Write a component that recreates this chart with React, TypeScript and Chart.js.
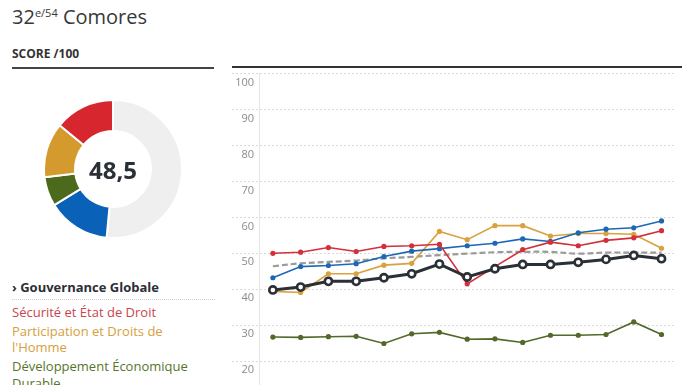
import React, { useEffect, useRef } from 'react';
import { Chart, registerables } from 'chart.js';

Chart.register(...registerables);

// ---- Data ----
const years = ['2000', '2001', '2002', '2003', '2004', '2005', '2006', '2007', '2008', '2009', '2010', '2011', '2012', '2013', '2014'];
const gouvernance = [39.8, 40.6, 42.2, 42.2, 43.2, 44.3, 47.0, 43.4, 45.7, 46.9, 46.9, 47.5, 48.3, 49.4, 48.5];
const securite = [50.0, 50.3, 51.6, 50.5, 51.9, 52.1, 52.5, 41.5, 46.3, 51.0, 53.1, 52.1, 53.6, 54.3, 56.3];
const participation = [39.4, 39.1, 44.3, 44.3, 46.7, 47.2, 56.1, 53.8, 57.7, 57.7, 54.8, 55.5, 55.5, 55.3, 51.4];
const devEconomique = [26.7, 26.6, 26.8, 26.9, 24.9, 27.6, 28.0, 26.1, 26.2, 25.2, 27.2, 27.2, 27.4, 30.9, 27.4];
const devHumain = [43.2, 46.3, 46.6, 47.1, 49.1, 50.6, 51.3, 52.1, 52.8, 54.0, 53.3, 55.7, 56.7, 57.1, 59.0];
const moyenne = [46.4, 47.2, 47.6, 48.0, 48.6, 49.0, 49.5, 49.9, 50.3, 50.4, 50.4, 49.9, 50.2, 50.2, 50.2];
const yTicks = [0, 10, 20, 30, 40, 50, 60, 70, 80, 90, 100];

const rank = '32';
const rankOf = 'e/54';
const country = 'Comores';
const scoreLabel = '48,5';
const categoryNames = ['Sécurité et État de Droit', "Participation et Droits de l'Homme", 'Développement Économique Durable', 'Développement Humain'];

const RED = '#d3303a';
const YELLOW = '#d9a23f';
const GREEN = '#52692a';
const BLUE = '#1d68b4';
const BLACK = '#2b2f36';

export default function App() {
  const lineRef = useRef<HTMLCanvasElement>(null);
  const donutRef = useRef<HTMLCanvasElement>(null);

  useEffect(() => {
    Chart.defaults.font.family = "'Open Sans', sans-serif";

    const coloured = (label: string, data: number[], color: string) => ({
      label,
      data,
      borderColor: color,
      backgroundColor: color,
      borderWidth: 1.6,
      pointRadius: 2.6,
      pointBorderWidth: 0,
      pointBackgroundColor: color,
      tension: 0,
    });

    const line = new Chart(lineRef.current!, {
      type: 'line',
      data: {
        labels: years,
        datasets: [
          {
            label: 'Gouvernance Globale',
            data: gouvernance,
            borderColor: BLACK,
            backgroundColor: '#fff',
            borderWidth: 3,
            pointRadius: 3.6,
            pointBorderWidth: 2.6,
            pointBackgroundColor: '#fff',
            pointBorderColor: BLACK,
            tension: 0,
          },
          coloured(categoryNames[0], securite, RED),
          coloured(categoryNames[3], devHumain, BLUE),
          coloured(categoryNames[1], participation, YELLOW),
          coloured(categoryNames[2], devEconomique, GREEN),
          {
            label: 'Moyenne',
            data: moyenne,
            borderColor: '#9a9a9a',
            borderWidth: 2.2,
            borderDash: [6, 3],
            pointRadius: 0,
            tension: 0.4,
          },
        ],
      },
      options: {
        animation: false,
        responsive: false,
        layout: { padding: 0 },
        plugins: { legend: { display: false }, tooltip: { enabled: false } },
        scales: {
          x: {
            type: 'category',
            offset: true,
            grid: { display: false },
            border: { display: false },
            ticks: { color: '#888', font: { size: 11 } },
            afterFit: (s: any) => {
              s.height = 29;
              s.paddingLeft = 0;
              s.paddingRight = 0;
            },
          },
          y: {
            min: yTicks[0],
            max: yTicks[yTicks.length - 1],
            afterBuildTicks: (s: any) => {
              s.ticks = yTicks.map((v) => ({ value: v }));
            },
            ticks: { color: '#8a8a8a', font: { size: 11 }, padding: -22, labelOffset: 9 },
            grid: { color: '#d9d9d9', tickLength: 27, tickColor: '#d9d9d9', tickBorderDash: [2, 2] },
            border: { display: true, color: '#e4e4e4', dash: [2, 2] },
            afterFit: (s: any) => {
              s.width = 27;
              s.paddingTop = 0;
              s.paddingBottom = 0;
            },
          },
        },
      },
    } as any);

    const n = years.length - 1;
    const parts = [securite[n], participation[n], devEconomique[n], devHumain[n]].map((v) => v / 4);
    const total = parts.reduce((a, b) => a + b, 0);

    const donut = new Chart(donutRef.current!, {
      type: 'doughnut',
      data: {
        labels: ['Reste', categoryNames[3], categoryNames[2], categoryNames[1], categoryNames[0]],
        datasets: [
          {
            data: [100 - total, parts[3], parts[2], parts[1], parts[0]],
            backgroundColor: ['#efefef', '#0a62b8', '#4b6a1c', '#d49a2e', '#d7262e'],
            borderColor: '#ffffff',
            borderWidth: 2,
          },
        ],
      },
      options: {
        animation: false,
        responsive: false,
        cutout: '55%',
        layout: { padding: 0 },
        plugins: { legend: { display: false }, tooltip: { enabled: false } },
      },
    } as any);

    return () => {
      line.destroy();
      donut.destroy();
    };
  }, []);

  return (
    <div
      style={{
        position: 'fixed',
        left: 0,
        top: 0,
        width: 696,
        height: 385,
        overflow: 'hidden',
        background: '#fff',
        fontFamily: "'Open Sans', sans-serif",
        color: '#333',
      }}
    >
      <div style={{ position: 'absolute', left: 12, top: 7, fontSize: 20, lineHeight: '20px', whiteSpace: 'nowrap', color: '#383838' }}>
        {rank}
        <span style={{ fontSize: 11, position: 'relative', top: -7 }}>{rankOf}</span> {country}
      </div>
      <div style={{ position: 'absolute', left: 12, top: 48, fontSize: 12, lineHeight: '12px', fontWeight: 700, color: '#333', whiteSpace: 'nowrap' }}>
        SCORE /100
      </div>
      <div style={{ position: 'absolute', left: 12, top: 67, width: 202, height: 1.5, background: '#444' }} />

      <canvas ref={donutRef} width={140} height={140} style={{ position: 'absolute', left: 43, top: 99, width: 140, height: 140 }} />
      <div style={{ position: 'absolute', left: 43, top: 158, width: 140, textAlign: 'center', fontSize: 24, lineHeight: '24px', fontWeight: 700, color: BLACK }}>
        {scoreLabel}
      </div>

      <div style={{ position: 'absolute', left: 12, top: 279, fontSize: 13, lineHeight: '16px', fontWeight: 700, color: BLACK, whiteSpace: 'nowrap' }}>
        › Gouvernance Globale
      </div>
      <div style={{ position: 'absolute', left: 12, top: 299, width: 203, height: 0, borderTop: '1px dotted #cfcfcf' }} />
      <div style={{ position: 'absolute', left: 12, top: 303.5, width: 202, fontSize: 13, lineHeight: '16.3px' }}>
        <div style={{ color: '#c8454d', marginBottom: 3 }}>{categoryNames[0]}</div>
        <div style={{ color: '#d6a040', marginBottom: 3 }}>{categoryNames[1]}</div>
        <div style={{ color: '#56752b', marginBottom: 3 }}>{categoryNames[2]}</div>
        <div style={{ color: '#1d68b4', marginBottom: 3 }}>{categoryNames[3]}</div>
      </div>

      <canvas ref={lineRef} width={450} height={395} style={{ position: 'absolute', left: 232, top: 67, width: 450, height: 395 }} />
      <div style={{ position: 'absolute', left: 232, top: 66, width: 450, height: 2, background: '#333' }} />
    </div>
  );
}
